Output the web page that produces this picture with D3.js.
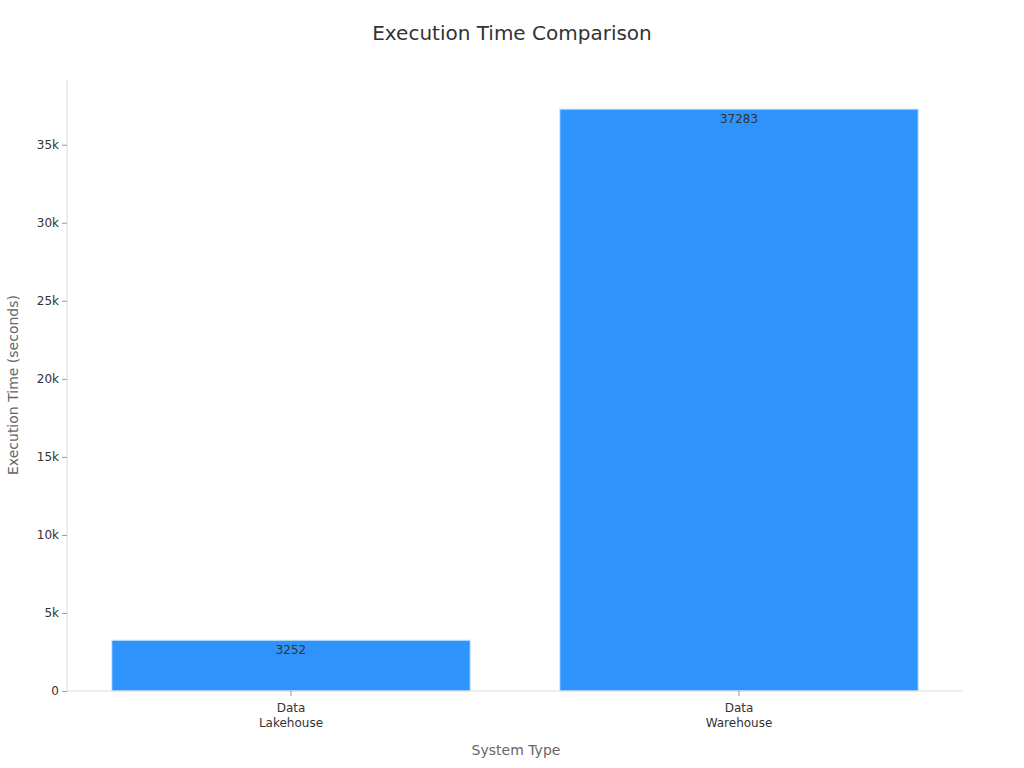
<!DOCTYPE html>
<html><head><meta charset="utf-8">
<script src="https://cdn.jsdelivr.net/npm/d3@7"></script>
<style>body{margin:0;background:#fff;font-family:"DejaVu Sans",sans-serif;}</style>
</head><body><svg id="c" width="1024" height="768"></svg>
<script>
const categories = [["Data","Lakehouse"],["Data","Warehouse"]];
const values = [3252, 37283];
const yTicks = [0,5000,10000,15000,20000,25000,30000,35000];
const tickLabels = ["0","5k","10k","15k","20k","25k","30k","35k"];

const svg = d3.select("#c");
const m = {l:67, r:963, t:80, b:691};
const x = d3.scaleBand().domain([0,1]).range([m.l,m.r]).paddingInner(0.2).paddingOuter(0.1);
const y = d3.scaleLinear().domain([0, 37283*1.05]).range([m.b,m.t]);

svg.append("text").attr("x",512).attr("y",40).attr("text-anchor","middle")
  .attr("font-size",20).attr("fill","#333").text("Execution Time Comparison");

svg.selectAll("rect.bar").data(values).join("rect")
  .attr("x",(d,i)=>x(i)).attr("width",x.bandwidth())
  .attr("y",d=>y(d)).attr("height",d=>y(0)-y(d))
  .attr("fill","#2e93fa").attr("stroke","#cfe4fb").attr("stroke-width",1);

svg.selectAll("text.val").data(values).join("text")
  .attr("x",(d,i)=>x(i)+x.bandwidth()/2).attr("y",d=>y(d)+14)
  .attr("text-anchor","middle").attr("font-size",12).attr("fill","#333").text(d=>d);

// axes
const ya = svg.append("g").attr("transform",`translate(${m.l},0)`)
  .call(d3.axisLeft(y).tickValues(yTicks).tickFormat((d,i)=>tickLabels[i]).tickSize(5));
ya.select(".domain").attr("stroke","#ddd").attr("d",`M0,${m.t}V${m.b}`);
ya.selectAll(".tick line").attr("stroke","#999");
ya.selectAll(".tick text").attr("font-size",12).attr("fill","#333").attr("font-family","DejaVu Sans");

const xa = svg.append("g").attr("transform",`translate(0,${m.b})`)
  .call(d3.axisBottom(x).tickFormat("").tickSize(5));
xa.select(".domain").attr("stroke","#ddd").attr("d",`M${m.l},0H${m.r}`);
xa.selectAll(".tick line").attr("stroke","#999");
categories.forEach((c,i)=>{
  const t = svg.append("text").attr("x",x(i)+x.bandwidth()/2).attr("y",m.b+21)
    .attr("text-anchor","middle").attr("font-size",12).attr("fill","#333");
  c.forEach((s,j)=>t.append("tspan").attr("x",x(i)+x.bandwidth()/2).attr("dy",j?15:0).text(s));
});

svg.append("text").attr("x",516).attr("y",755).attr("text-anchor","middle")
  .attr("font-size",14).attr("fill","#666").text("System Type");
svg.append("text").attr("transform","translate(18,385) rotate(-90)").attr("text-anchor","middle")
  .attr("font-size",14).attr("fill","#666").text("Execution Time (seconds)");
</script></body></html>
